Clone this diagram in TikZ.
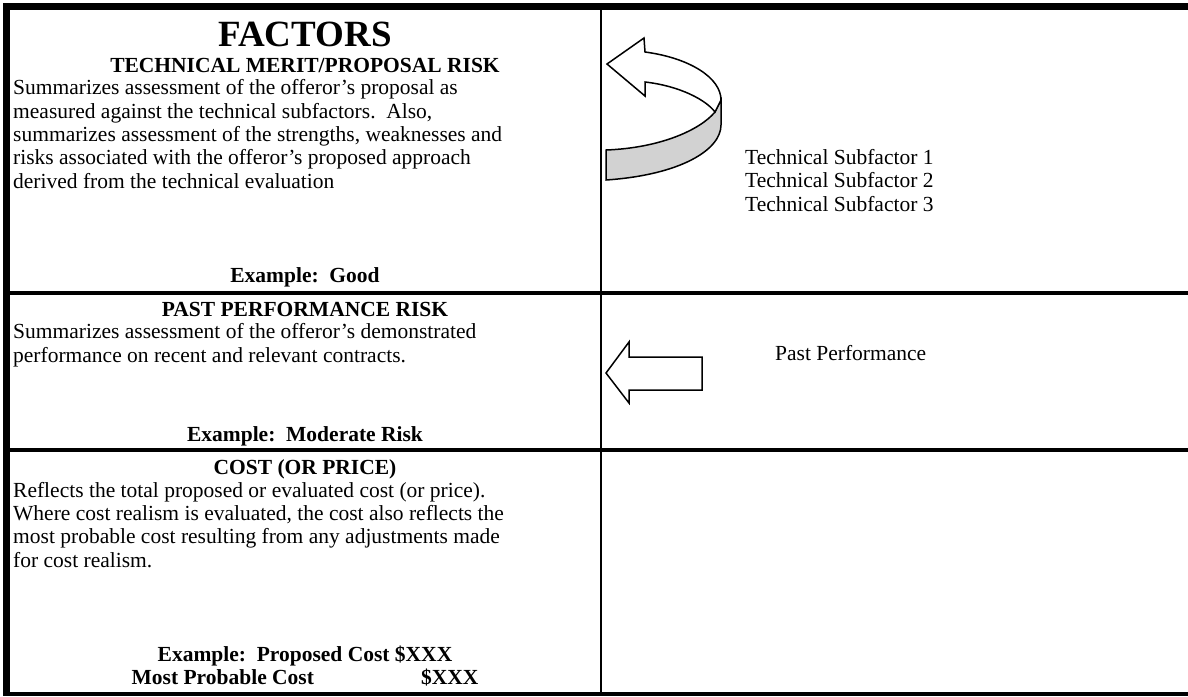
\documentclass[tikz,border=0pt]{standalone}
\usepackage{fontspec}
\setmainfont{Liberation Serif}
\usetikzlibrary{positioning}
\tikzset{
  title/.style={font=\fontsize{37}{40}\selectfont\bfseries,inner sep=0pt,anchor=base},
  factor/.style={font=\fontsize{21.5}{23.3}\selectfont\bfseries,inner sep=0pt,anchor=base},
  rating/.style={factor,align=center},
  descr/.style={font=\fontsize{21.5}{23.3}\selectfont,inner sep=0pt,align=left,anchor=base west},
  subfactor/.style={descr},
  border/.style={line width=7pt},
  rowrule/.style={line width=3.5pt},
  colrule/.style={line width=2pt},
  blockarrow/.style={draw,line width=1.5pt,fill=white,line join=miter},
  ribbon/.style={blockarrow,fill=gray!35},
}
\begin{document}
\begin{tikzpicture}[x=1pt,y=-1pt]
  \useasboundingbox (0,0) rectangle (1188,696);
  % table
  \draw[border] (3,6.5) -- (1188,6.5);
  \draw[border] (6.5,3) -- (6.5,696);
  \draw[line width=4pt] (3,694) -- (1188,694);
  \draw[rowrule] (10,293) -- (1188,293);
  \draw[rowrule] (10,450) -- (1188,450);
  \draw[colrule] (601,10) -- (601,692);
  % technical merit (descr nodes sit on their last line)
  \node[title] (A) at (305,46) {FACTORS};
  \node[factor] (A1) at (305,72) {TECHNICAL MERIT/PROPOSAL RISK};
  \node[descr] (A2) at (13,188) {Summarizes assessment of the offeror’s proposal as\\
    measured against the technical subfactors.\ \ Also,\\
    summarizes assessment of the strengths, weaknesses and\\
    risks associated with the offeror’s proposed approach\\
    derived from the technical evaluation};
  \node[rating] (A3) at (305,282) {Example:\ \ Good};
  % past performance
  \node[factor] (B1) at (305,316) {PAST PERFORMANCE RISK};
  \node[descr] (B2) at (13,362) {Summarizes assessment of the offeror’s demonstrated\\
    performance on recent and relevant contracts.};
  \node[rating] (B3) at (305,441) {Example:\ \ Moderate Risk};
  % cost
  \node[factor] (C1) at (305,474) {COST (OR PRICE)};
  \node[descr] (C2) at (13,567) {Reflects the total proposed or evaluated cost (or price).\\
    Where cost realism is evaluated, the cost also reflects the\\
    most probable cost resulting from any adjustments made\\
    for cost realism.};
  \node[rating] (C3) at (305,661) {Example:\ \ Proposed Cost \$XXX};
  \node[rating] (C4) at (305,684) {Most Probable Cost\hspace{107pt}\$XXX};
  % right column
  \node[subfactor] (S) at (745,211) {Technical Subfactor 1\\
    Technical Subfactor 2\\
    Technical Subfactor 3};
  \node[subfactor] (P) at (775,360) {Past Performance};
  % curved arrow
  \draw[ribbon] (721,100) -- (721,125) .. controls (721,150) and (680,175) .. (606,180)
    -- (606,150) .. controls (660,148) and (700,130) .. (715,112) -- cycle;
  \draw[blockarrow] (607,64) -- (644,38) -- (645,52) .. controls (690,58) and (721,78) .. (721,100)
    -- (715,112) .. controls (706,100) and (680,86) .. (645,82) -- (645,96) -- cycle;
  % block arrow
  \draw[blockarrow] (606,373) -- (629,342) -- (629,357) -- (702,357) -- (702,390)
    -- (629,390) -- (629,403) -- cycle;
\end{tikzpicture}
\end{document}
